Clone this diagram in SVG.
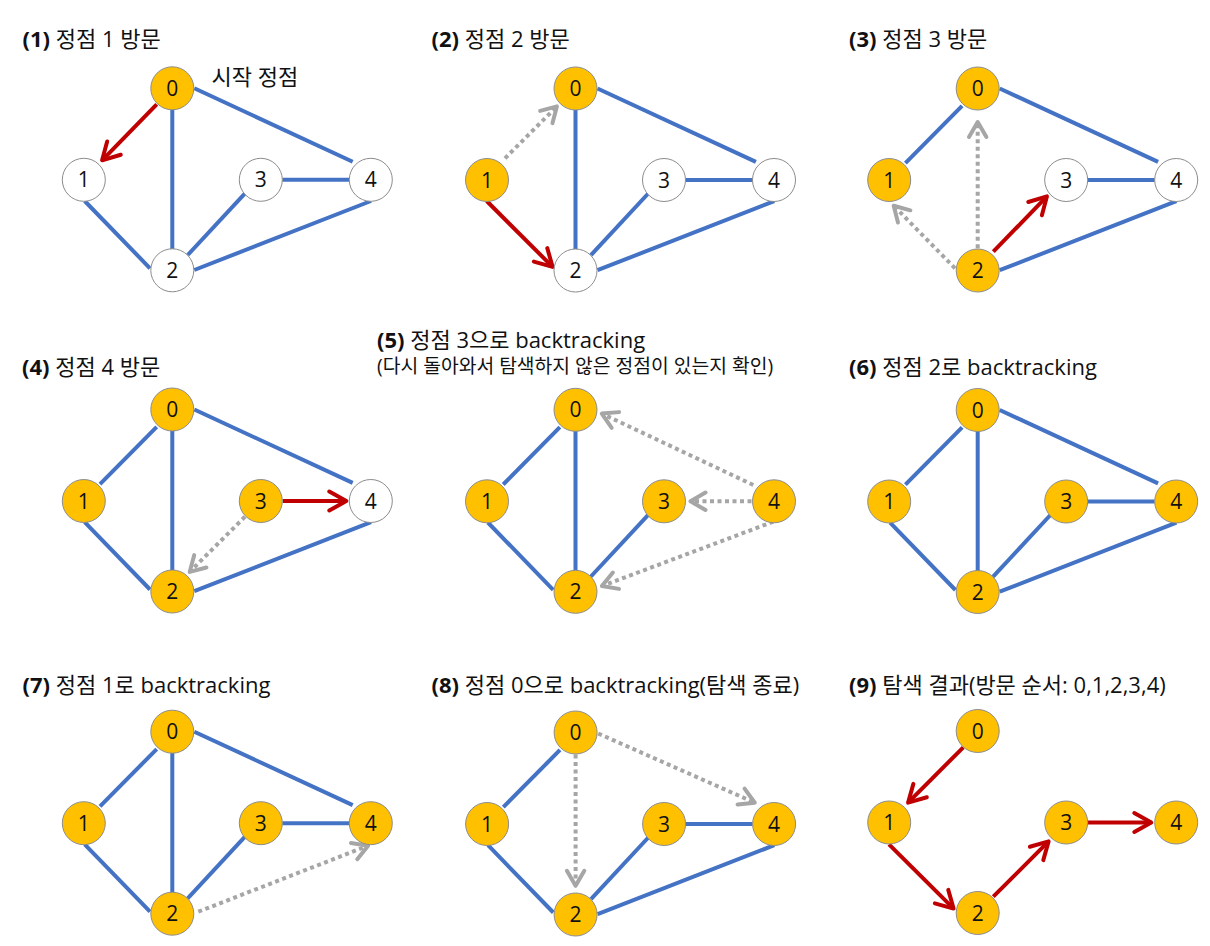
<svg xmlns="http://www.w3.org/2000/svg" width="1210" height="946" viewBox="0 0 1210 946">
  <style>
    .title { font-family: "Open Sans", "Noto Sans CJK KR", sans-serif; font-size: 22px; fill: #111111; }
    .sub { font-family: "Open Sans", "Noto Sans CJK KR", sans-serif; font-size: 19.3px; fill: #111111; }
    .b { font-weight: 700; }
    .edge { stroke: #4472C4; stroke-width: 4; fill: none; }
    .red { stroke: #C00000; stroke-width: 4; fill: none; marker-end: url(#arRed); }
    .gray { stroke: #A6A6A6; stroke-width: 4; fill: none; stroke-dasharray: 4 3.5; marker-end: url(#arGray); }
    .nv { fill: #FFC000; stroke: #8C8C8C; stroke-width: 1; }
    .nu { fill: #FFFFFF; stroke: #8C8C8C; stroke-width: 1; }
    .lbl { font-family: "Open Sans", "Noto Sans", sans-serif; font-size: 21px; fill: #111111; text-anchor: middle; }
  </style>
  <defs>
    <marker id="arRed" markerUnits="userSpaceOnUse" markerWidth="30" markerHeight="30" viewBox="-25 -15 30 30" refX="0" refY="0" orient="auto" overflow="visible">
      <path d="M-17,-9.5 L0,0 L-17,9.5" fill="none" stroke="#C00000" stroke-width="4" stroke-linecap="round" stroke-linejoin="round"/>
    </marker>
    <marker id="arGray" markerUnits="userSpaceOnUse" markerWidth="30" markerHeight="30" viewBox="-25 -15 30 30" refX="0" refY="0" orient="auto" overflow="visible">
      <path d="M-15,-8.7 L0,0 L-15,8.7" fill="none" stroke="#A6A6A6" stroke-width="4" stroke-linecap="round" stroke-linejoin="round"/>
    </marker>
  </defs>
  <rect width="1210" height="946" fill="#FFFFFF"/>

  <!-- Titles -->
  <g id="titles">
    <text class="title" x="22.5" y="47"><tspan class="b">(1)</tspan> 정점 1 방문</text>
    <text class="title" x="431.5" y="47"><tspan class="b">(2)</tspan> 정점 2 방문</text>
    <text class="title" x="849" y="47"><tspan class="b">(3)</tspan> 정점 3 방문</text>
    <text class="title" x="22" y="375"><tspan class="b">(4)</tspan> 정점 4 방문</text>
    <text class="title" x="377" y="348"><tspan class="b">(5)</tspan> 정점 3으로 backtracking</text>
    <text class="sub" x="377" y="373">(다시 돌아와서 탐색하지 않은 정점이 있는지 확인)</text>
    <text class="title" x="849" y="375"><tspan class="b">(6)</tspan> 정점 2로 backtracking</text>
    <text class="title" x="22.5" y="693"><tspan class="b">(7)</tspan> 정점 1로 backtracking</text>
    <text class="title" x="431.5" y="693"><tspan class="b">(8)</tspan> 정점 0으로 backtracking(탐색 종료)</text>
    <text class="title" x="849" y="693"><tspan class="b">(9)</tspan> 탐색 결과(방문 순서: 0,1,2,3,4)</text>
    <text class="title" x="211.5" y="85">시작 정점</text>
  </g>

  <!-- Panel 1 -->
  <g id="panel1" transform="translate(172.3,88.3)">
    <g id="p1-connectors">
      <line class="edge" x1="0" y1="21" x2="0" y2="161"/>
      <line class="edge" x1="22" y1="0" x2="180.4" y2="73.4"/>
      <line class="edge" x1="-87.6" y1="112.7" x2="-22.3" y2="180"/>
      <line class="edge" x1="15.4" y1="166.7" x2="72.7" y2="105"/>
      <line class="edge" x1="110" y1="91.5" x2="177" y2="91.5"/>
      <line class="edge" x1="22" y1="181.7" x2="198.7" y2="112.7"/>
      <line class="red" x1="-15.6" y1="16" x2="-70.2" y2="72"/>
    </g>
    <g id="p1-n0"><circle class="nv" cx="0" cy="0" r="21.5"/><text class="lbl" x="0" y="7.5">0</text></g>
    <g id="p1-n1"><circle class="nu" cx="-88.5" cy="91.5" r="21.5"/><text class="lbl" x="-88.5" y="99">1</text></g>
    <g id="p1-n2"><circle class="nu" cx="0" cy="182" r="21.5"/><text class="lbl" x="0" y="189.5">2</text></g>
    <g id="p1-n3"><circle class="nu" cx="88.5" cy="91.5" r="21.5"/><text class="lbl" x="88.5" y="99">3</text></g>
    <g id="p1-n4"><circle class="nu" cx="198.5" cy="91.5" r="21.5"/><text class="lbl" x="198.5" y="99">4</text></g>
  </g>

  <!-- Panel 2 -->
  <g id="panel2" transform="translate(575.5,88.5)">
    <g id="p2-connectors">
      <line class="edge" x1="0" y1="21" x2="0" y2="161"/>
      <line class="edge" x1="22" y1="0" x2="180.4" y2="73.4"/>
      <line class="edge" x1="15.4" y1="166.7" x2="72.7" y2="105"/>
      <line class="edge" x1="110" y1="91.5" x2="177" y2="91.5"/>
      <line class="edge" x1="22" y1="181.7" x2="198.7" y2="112.7"/>
      <line class="gray" x1="-70.5" y1="69.8" x2="-18.6" y2="17.9"/>
      <line class="red" x1="-88.8" y1="112.5" x2="-22.9" y2="178.4"/>
    </g>
    <g id="p2-n0"><circle class="nv" cx="0" cy="0" r="21.5"/><text class="lbl" x="0" y="7.5">0</text></g>
    <g id="p2-n1"><circle class="nv" cx="-88.5" cy="91.5" r="21.5"/><text class="lbl" x="-88.5" y="99">1</text></g>
    <g id="p2-n2"><circle class="nu" cx="0" cy="182" r="21.5"/><text class="lbl" x="0" y="189.5">2</text></g>
    <g id="p2-n3"><circle class="nu" cx="88.5" cy="91.5" r="21.5"/><text class="lbl" x="88.5" y="99">3</text></g>
    <g id="p2-n4"><circle class="nu" cx="198.5" cy="91.5" r="21.5"/><text class="lbl" x="198.5" y="99">4</text></g>
  </g>

  <!-- Panel 3 -->
  <g id="panel3" transform="translate(977.7,88.5)">
    <g id="p3-connectors">
      <line class="edge" x1="-72.3" y1="74.7" x2="-15.6" y2="17.4"/>
      <line class="edge" x1="22" y1="0" x2="180.4" y2="73.4"/>
      <line class="edge" x1="110" y1="91.5" x2="177" y2="91.5"/>
      <line class="edge" x1="22" y1="181.7" x2="198.7" y2="112.7"/>
      <line class="gray" x1="0" y1="159.8" x2="0" y2="33.5"/>
      <line class="gray" x1="-22.7" y1="179.8" x2="-84" y2="117.2"/>
      <line class="red" x1="15.6" y1="163.2" x2="69.2" y2="107.9"/>
    </g>
    <g id="p3-n0"><circle class="nv" cx="0" cy="0" r="21.5"/><text class="lbl" x="0" y="7.5">0</text></g>
    <g id="p3-n1"><circle class="nv" cx="-88.5" cy="91.5" r="21.5"/><text class="lbl" x="-88.5" y="99">1</text></g>
    <g id="p3-n2"><circle class="nv" cx="0" cy="182" r="21.5"/><text class="lbl" x="0" y="189.5">2</text></g>
    <g id="p3-n3"><circle class="nu" cx="88.5" cy="91.5" r="21.5"/><text class="lbl" x="88.5" y="99">3</text></g>
    <g id="p3-n4"><circle class="nu" cx="198.5" cy="91.5" r="21.5"/><text class="lbl" x="198.5" y="99">4</text></g>
  </g>

  <!-- Panel 4 -->
  <g id="panel4" transform="translate(172.3,409.5)">
    <g id="p4-connectors">
      <line class="edge" x1="-72.3" y1="74.7" x2="-15.6" y2="17.4"/>
      <line class="edge" x1="0" y1="21" x2="0" y2="161"/>
      <line class="edge" x1="22" y1="0" x2="180.4" y2="73.4"/>
      <line class="edge" x1="-87.6" y1="112.7" x2="-22.3" y2="180"/>
      <line class="edge" x1="22" y1="181.7" x2="198.7" y2="112.7"/>
      <line class="red" x1="110.4" y1="91.5" x2="174" y2="91.5"/>
      <line class="gray" x1="72.7" y1="107.2" x2="17.4" y2="162.4"/>
    </g>
    <g id="p4-n0"><circle class="nv" cx="0" cy="0" r="21.5"/><text class="lbl" x="0" y="7.5">0</text></g>
    <g id="p4-n1"><circle class="nv" cx="-88.5" cy="91.5" r="21.5"/><text class="lbl" x="-88.5" y="99">1</text></g>
    <g id="p4-n2"><circle class="nv" cx="0" cy="182" r="21.5"/><text class="lbl" x="0" y="189.5">2</text></g>
    <g id="p4-n3"><circle class="nv" cx="88.5" cy="91.5" r="21.5"/><text class="lbl" x="88.5" y="99">3</text></g>
    <g id="p4-n4"><circle class="nu" cx="198.5" cy="91.5" r="21.5"/><text class="lbl" x="198.5" y="99">4</text></g>
  </g>

  <!-- Panel 5 -->
  <g id="panel5" transform="translate(575.5,409.8)">
    <g id="p5-connectors">
      <line class="edge" x1="-72.3" y1="74.7" x2="-15.6" y2="17.4"/>
      <line class="edge" x1="0" y1="21" x2="0" y2="161"/>
      <line class="edge" x1="-87.6" y1="112.7" x2="-22.3" y2="180"/>
      <line class="edge" x1="15.4" y1="166.7" x2="72.7" y2="105"/>
      <line class="gray" x1="177.8" y1="75.2" x2="26.3" y2="3.8"/>
      <line class="gray" x1="176" y1="91.5" x2="115" y2="91.5"/>
      <line class="gray" x1="197.8" y1="111.9" x2="26.4" y2="176.2"/>
    </g>
    <g id="p5-n0"><circle class="nv" cx="0" cy="0" r="21.5"/><text class="lbl" x="0" y="7.5">0</text></g>
    <g id="p5-n1"><circle class="nv" cx="-88.5" cy="91.5" r="21.5"/><text class="lbl" x="-88.5" y="99">1</text></g>
    <g id="p5-n2"><circle class="nv" cx="0" cy="182" r="21.5"/><text class="lbl" x="0" y="189.5">2</text></g>
    <g id="p5-n3"><circle class="nv" cx="88.5" cy="91.5" r="21.5"/><text class="lbl" x="88.5" y="99">3</text></g>
    <g id="p5-n4"><circle class="nv" cx="198.5" cy="91.5" r="21.5"/><text class="lbl" x="198.5" y="99">4</text></g>
  </g>

  <!-- Panel 6 -->
  <g id="panel6" transform="translate(977.7,410)">
    <g id="p6-connectors">
      <line class="edge" x1="-72.3" y1="74.7" x2="-15.6" y2="17.4"/>
      <line class="edge" x1="0" y1="21" x2="0" y2="161"/>
      <line class="edge" x1="22" y1="0" x2="180.4" y2="73.4"/>
      <line class="edge" x1="-87.6" y1="112.7" x2="-22.3" y2="180"/>
      <line class="edge" x1="15.4" y1="166.7" x2="72.7" y2="105"/>
      <line class="edge" x1="110" y1="91.5" x2="177" y2="91.5"/>
      <line class="edge" x1="22" y1="181.7" x2="198.7" y2="112.7"/>
    </g>
    <g id="p6-n0"><circle class="nv" cx="0" cy="0" r="21.5"/><text class="lbl" x="0" y="7.5">0</text></g>
    <g id="p6-n1"><circle class="nv" cx="-88.5" cy="91.5" r="21.5"/><text class="lbl" x="-88.5" y="99">1</text></g>
    <g id="p6-n2"><circle class="nv" cx="0" cy="182" r="21.5"/><text class="lbl" x="0" y="189.5">2</text></g>
    <g id="p6-n3"><circle class="nv" cx="88.5" cy="91.5" r="21.5"/><text class="lbl" x="88.5" y="99">3</text></g>
    <g id="p6-n4"><circle class="nv" cx="198.5" cy="91.5" r="21.5"/><text class="lbl" x="198.5" y="99">4</text></g>
  </g>

  <!-- Panel 7 -->
  <g id="panel7" transform="translate(172.3,731.7)">
    <g id="p7-connectors">
      <line class="edge" x1="-72.3" y1="74.7" x2="-15.6" y2="17.4"/>
      <line class="edge" x1="0" y1="21" x2="0" y2="161"/>
      <line class="edge" x1="22" y1="0" x2="180.4" y2="73.4"/>
      <line class="edge" x1="-87.6" y1="112.7" x2="-22.3" y2="180"/>
      <line class="edge" x1="15.4" y1="166.7" x2="72.7" y2="105"/>
      <line class="edge" x1="110" y1="91.5" x2="177" y2="91.5"/>
      <line class="gray" x1="26" y1="180" x2="195.8" y2="114"/>
    </g>
    <g id="p7-n0"><circle class="nv" cx="0" cy="0" r="21.5"/><text class="lbl" x="0" y="7.5">0</text></g>
    <g id="p7-n1"><circle class="nv" cx="-88.5" cy="91.5" r="21.5"/><text class="lbl" x="-88.5" y="99">1</text></g>
    <g id="p7-n2"><circle class="nv" cx="0" cy="182" r="21.5"/><text class="lbl" x="0" y="189.5">2</text></g>
    <g id="p7-n3"><circle class="nv" cx="88.5" cy="91.5" r="21.5"/><text class="lbl" x="88.5" y="99">3</text></g>
    <g id="p7-n4"><circle class="nv" cx="198.5" cy="91.5" r="21.5"/><text class="lbl" x="198.5" y="99">4</text></g>
  </g>

  <!-- Panel 8 -->
  <g id="panel8" transform="translate(575.6,732.5)">
    <g id="p8-connectors">
      <line class="edge" x1="-72.3" y1="74.7" x2="-15.6" y2="17.4"/>
      <line class="edge" x1="-87.6" y1="112.7" x2="-22.3" y2="180"/>
      <line class="edge" x1="15.4" y1="166.7" x2="72.7" y2="105"/>
      <line class="edge" x1="110" y1="91.5" x2="177" y2="91.5"/>
      <line class="edge" x1="22" y1="181.7" x2="198.7" y2="112.7"/>
      <line class="gray" x1="0" y1="22" x2="0" y2="153.3"/>
      <line class="gray" x1="22.6" y1="1" x2="179.2" y2="70.2"/>
    </g>
    <g id="p8-n0"><circle class="nv" cx="0" cy="0" r="21.5"/><text class="lbl" x="0" y="7.5">0</text></g>
    <g id="p8-n1"><circle class="nv" cx="-88.5" cy="91.5" r="21.5"/><text class="lbl" x="-88.5" y="99">1</text></g>
    <g id="p8-n2"><circle class="nv" cx="0" cy="182" r="21.5"/><text class="lbl" x="0" y="189.5">2</text></g>
    <g id="p8-n3"><circle class="nv" cx="88.5" cy="91.5" r="21.5"/><text class="lbl" x="88.5" y="99">3</text></g>
    <g id="p8-n4"><circle class="nv" cx="198.5" cy="91.5" r="21.5"/><text class="lbl" x="198.5" y="99">4</text></g>
  </g>

  <!-- Panel 9 -->
  <g id="panel9" transform="translate(977.7,731)">
    <g id="p9-connectors">
      <line class="red" x1="-14.4" y1="16.3" x2="-69.6" y2="71.6"/>
      <line class="red" x1="-88.7" y1="113.3" x2="-24.1" y2="177.6"/>
      <line class="red" x1="15.6" y1="165.7" x2="70.9" y2="110.4"/>
      <line class="red" x1="110" y1="91.5" x2="173.6" y2="91.5"/>
    </g>
    <g id="p9-n0"><circle class="nv" cx="0" cy="0" r="21.5"/><text class="lbl" x="0" y="7.5">0</text></g>
    <g id="p9-n1"><circle class="nv" cx="-88.5" cy="91.5" r="21.5"/><text class="lbl" x="-88.5" y="99">1</text></g>
    <g id="p9-n2"><circle class="nv" cx="0" cy="182" r="21.5"/><text class="lbl" x="0" y="189.5">2</text></g>
    <g id="p9-n3"><circle class="nv" cx="88.5" cy="91.5" r="21.5"/><text class="lbl" x="88.5" y="99">3</text></g>
    <g id="p9-n4"><circle class="nv" cx="198.5" cy="91.5" r="21.5"/><text class="lbl" x="198.5" y="99">4</text></g>
  </g>
</svg>
